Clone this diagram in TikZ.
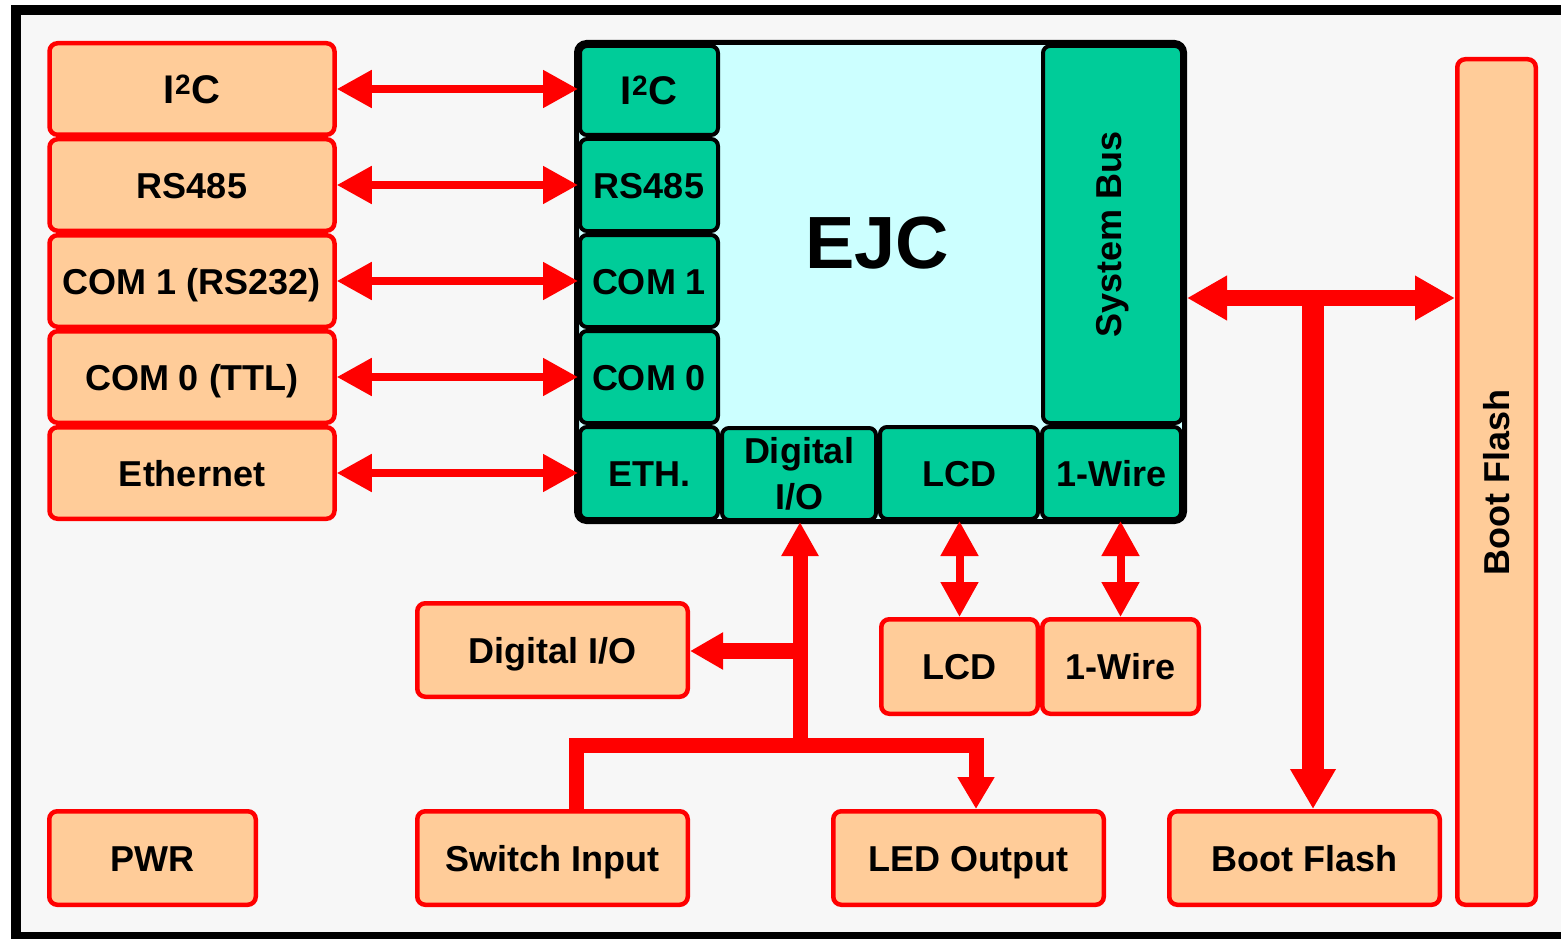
\documentclass[tikz,border=0pt]{standalone}
\usepackage{fontspec}
\setmainfont{Liberation Sans}
\usetikzlibrary{arrows.meta,calc}
\definecolor{peachc}{HTML}{FFCC99}
\definecolor{greenc}{HTML}{00CC99}
\definecolor{cyanc}{HTML}{CCFFFF}
\definecolor{bgc}{HTML}{F7F7F7}
\definecolor{redc}{HTML}{FF0000}
\begin{document}
\begin{tikzpicture}[x=1pt,y=-1pt,
  peach/.style={draw=redc, fill=peachc, line width=4.5pt, rounded corners=8pt, inner sep=0pt,
    font=\bfseries\fontsize{36}{42}\selectfont, align=center, text height=26pt, text depth=0pt},
  lbox/.style={peach, minimum width=285pt, minimum height=91.5pt},
  bbox/.style={peach, minimum width=270.5pt, minimum height=93.5pt},
  sbox/.style={peach, minimum width=156.5pt, minimum height=94.5pt},
  gbox/.style={draw=black, fill=greenc, line width=4pt, rounded corners=7pt, inner sep=0pt,
    font=\bfseries\fontsize{36}{44}\selectfont, align=center, text height=26pt, text depth=0pt},
  gcol/.style={gbox, minimum width=138pt, minimum height=92pt},
  thinbi/.style={draw=redc, line width=8pt, {Triangle[length=35pt,width=36pt]}-{Triangle[length=35pt,width=36pt]}},
  bus/.style={draw=redc, line width=15pt},
]
\useasboundingbox (0,0) rectangle (1561,939);
\fill[white] (0,0) rectangle (1561,939);
\begin{scope}
\clip (0,0) rectangle (1561,939);
\draw[line width=10pt, fill=bgc] (16,10) rectangle (1620,937);
\end{scope}

% left peripheral boxes
\node[lbox, text height=28.6pt] (lI2C) at (192,89) {\fontsize{40}{44}\selectfont I\textsuperscript{2}C};
\node[lbox] (lRS) at (192,185) {RS485};
\node[lbox] (lC1) at (192,281) {COM 1 (RS232)};
\node[lbox] (lC0) at (192,377) {COM 0 (TTL)};
\node[lbox] (lETH) at (192,473) {Ethernet};

% EJC block
\node[draw=black, fill=cyanc, line width=5pt, rounded corners=10pt, minimum width=608pt, minimum height=479pt, inner sep=0pt] (ejc) at (880.5,282) {};
\node[font=\bfseries\fontsize{74}{80}\selectfont, text height=53pt, text depth=0pt, inner sep=0pt] (ejct) at (877,242) {EJC};
\node[gcol, minimum height=89pt, text height=28.6pt] (gI2C) at (649,90.5) {\fontsize{40}{44}\selectfont I\textsuperscript{2}C};
\node[gcol] (gRS) at (649,185) {RS485};
\node[gcol] (gC1) at (649,281) {COM 1};
\node[gcol] (gC0) at (649,377) {COM 0};
\node[gcol] (gETH) at (649,473) {ETH.};
\node[gbox, minimum width=154pt, minimum height=92pt, text height=, text depth=] (gDIO) at (799,474) {Digital\\[2pt]I/O};
\node[gbox, minimum width=158pt, minimum height=92pt] (gLCD) at (959,473) {LCD};
\node[gbox, minimum width=139pt, minimum height=92pt] (gOW) at (1111.5,473) {1-Wire};
\node[gbox, minimum width=139pt, minimum height=377pt, text height=, text depth=] (gSB) at (1112.5,234.5) {\rotatebox{90}{System Bus}};

% lower peripheral boxes
\node[bbox] (dio) at (552.5,650) {Digital I/O};
\node[sbox] (lcd) at (959.5,666.5) {LCD};
\node[sbox] (ow) at (1120.5,666.5) {1-Wire};
\node[peach, minimum width=206.5pt, minimum height=93.5pt] (pwr) at (152.5,858) {PWR};
\node[bbox] (sw) at (552.5,858) {Switch Input};
\node[bbox] (led) at (968.5,858) {LED Output};
\node[bbox] (bfb) at (1304.5,858) {Boot Flash};
\node[peach, minimum width=78.5pt, minimum height=845.5pt, text height=, text depth=] (bfv) at (1496.5,482) {\rotatebox{90}{Boot Flash}};

% left double arrows
\draw[thinbi] (lI2C.east) -- (lI2C.east -| gI2C.west);
\draw[thinbi] (lRS.east) -- (lRS.east -| gRS.west);
\draw[thinbi] (lC1.east) -- (lC1.east -| gC1.west);
\draw[thinbi] (lC0.east) -- (lC0.east -| gC0.west);
\draw[thinbi] (lETH.east) -- (lETH.east -| gETH.west);

% LCD and 1-Wire
\draw[thinbi] (lcd.north |- gLCD.south) -- (lcd.north);
\draw[thinbi] (ow.north |- gOW.south) -- (ow.north);

% Digital I/O tree
\coordinate (jBus) at (800,745);
\coordinate (jDIO) at (800,651);
\coordinate (cSw) at (576,745);
\coordinate (cLed) at (976,745);
\draw[bus, -{Triangle[length=34pt,width=35pt]}] (jBus) -- (jBus |- gDIO.south);
\draw[draw=redc, line width=16pt, -{Triangle[length=33pt,width=35pt]}] (jDIO) -- (jDIO -| dio.east);
\draw[bus, -{Triangle[length=32pt,width=35pt]}] (cSw |- sw.north) -- (cSw) -- (cLed) -- (cLed |- led.north);

% System bus
\coordinate (sbJ) at (1313,298);
\draw[draw=redc, line width=16pt, {Triangle[length=40pt,width=42pt]}-{Triangle[length=40pt,width=42pt]}] (ejc.east |- sbJ) -- (bfv.west |- sbJ);
\draw[draw=redc, line width=22pt, -{Triangle[length=40pt,width=43pt]}] (sbJ) -- (sbJ |- bfb.north);
\end{tikzpicture}
\end{document}
